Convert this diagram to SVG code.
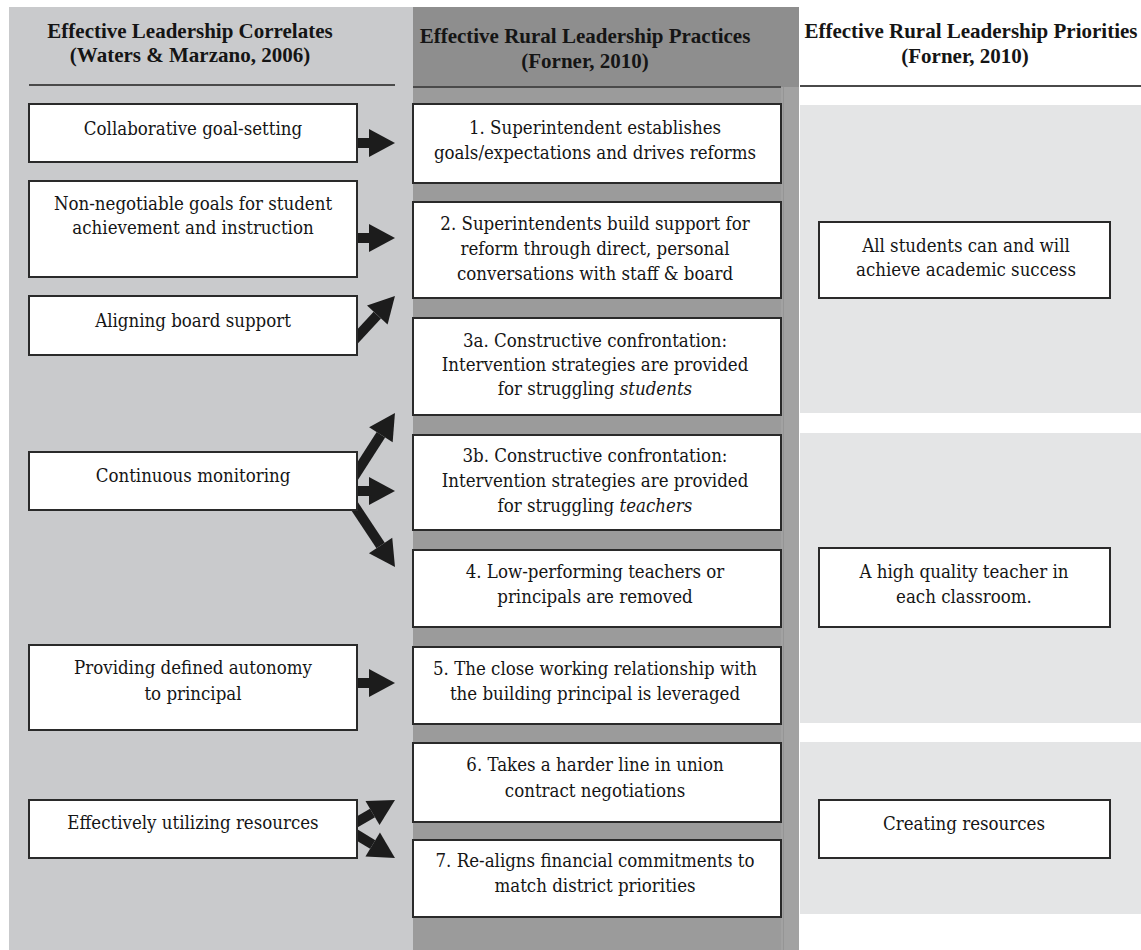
<svg xmlns="http://www.w3.org/2000/svg" width="1141" height="950" viewBox="0 0 1141 950">
<style>
.box{fill:#ffffff;stroke:#2a2a2a;stroke-width:2}
.t{font-family:"DejaVu Serif Condensed","DejaVu Serif",serif;font-stretch:condensed;font-size:18.5px;fill:#151515;text-anchor:middle}
.h{font-family:"Liberation Serif",serif;font-size:21px;font-weight:bold;fill:#151515;text-anchor:middle}
.rule{stroke:#4a4a4a;stroke-width:2}
.conn{stroke:#1c1c1c;stroke-width:10;fill:none;marker-end:url(#head)}
</style>
<defs>
<marker id="head" markerUnits="userSpaceOnUse" markerWidth="27" markerHeight="30" refX="0" refY="15" viewBox="0 0 27 30" orient="auto" overflow="visible">
<path d="M0,1 L26,15 L0,29 z" fill="#1c1c1c"/>
</marker>
</defs>
<rect x="0" y="0" width="1141" height="950" fill="#ffffff"/>
<g id="backgrounds">
<rect x="9" y="7" width="404" height="943" fill="#c9cacc"/>
<rect x="413" y="7" width="386" height="943" fill="#9b9b9b"/>
<rect x="413" y="7" width="386" height="80" fill="#8e8e8e"/>
<rect x="781" y="87" width="18" height="863" fill="#a2a2a2"/>
<line x1="783.5" y1="87" x2="783.5" y2="950" stroke="#959595" stroke-width="1"/>
<rect x="800" y="105" width="341" height="308" fill="#e4e5e6"/>
<rect x="800" y="433" width="341" height="290" fill="#e4e5e6"/>
<rect x="800" y="742" width="341" height="172" fill="#e4e5e6"/>
<line class="rule" x1="29" y1="85" x2="395" y2="85"/>
<line class="rule" x1="413" y1="87" x2="781" y2="87"/>
<line class="rule" x1="800" y1="86" x2="1141" y2="86"/>
</g>
<g id="headers">
<text class="h" x="190" y="38">Effective Leadership Correlates</text>
<text class="h" x="190" y="62">(Waters &amp; Marzano, 2006)</text>
<text class="h" x="585" y="43">Effective Rural Leadership Practices</text>
<text class="h" x="585" y="68">(Forner, 2010)</text>
<text class="h" x="971" y="38">Effective Rural Leadership Priorities</text>
<text class="h" x="965" y="63">(Forner, 2010)</text>
</g>
<g id="connectors">
<line class="conn" x1="350" y1="143" x2="369" y2="143"/>
<line class="conn" x1="350" y1="238" x2="369" y2="238"/>
<line class="conn" x1="351.6" y1="342.9" x2="377.3" y2="315.1"/>
<line class="conn" x1="352.7" y1="478.7" x2="380.9" y2="434.8"/>
<line class="conn" x1="350" y1="491" x2="369" y2="491"/>
<line class="conn" x1="352.6" y1="503.3" x2="380.6" y2="545.4"/>
<line class="conn" x1="350" y1="683" x2="369" y2="683"/>
<line class="conn" x1="350.1" y1="826" x2="372.5" y2="813"/>
<line class="conn" x1="350.2" y1="830.9" x2="372.7" y2="844.5"/>
</g>
<g id="c1">
<rect class="box" x="29" y="104" width="328" height="58"/>
<text class="t" x="193" y="135">Collaborative goal-setting</text>
</g>
<g id="c2">
<rect class="box" x="29" y="181" width="328" height="96"/>
<text class="t" x="193" y="210">Non-negotiable goals for student</text>
<text class="t" x="193" y="234">achievement and instruction</text>
</g>
<g id="c3">
<rect class="box" x="29" y="296" width="328" height="59"/>
<text class="t" x="193" y="327">Aligning board support</text>
</g>
<g id="c4">
<rect class="box" x="29" y="452" width="328" height="58"/>
<text class="t" x="193" y="482">Continuous monitoring</text>
</g>
<g id="c5">
<rect class="box" x="29" y="645" width="328" height="85"/>
<text class="t" x="193" y="674">Providing defined autonomy</text>
<text class="t" x="193" y="700">to principal</text>
</g>
<g id="c6">
<rect class="box" x="29" y="800" width="328" height="58"/>
<text class="t" x="193" y="829">Effectively utilizing resources</text>
</g>
<g id="p1">
<rect class="box" x="413" y="104" width="368" height="79"/>
<text class="t" x="595" y="134">1. Superintendent establishes</text>
<text class="t" x="595" y="159">goals/expectations and drives reforms</text>
</g>
<g id="p2">
<rect class="box" x="413" y="202" width="368" height="96"/>
<text class="t" x="595" y="230">2. Superintendents build support for</text>
<text class="t" x="595" y="255">reform through direct, personal</text>
<text class="t" x="595" y="280">conversations with staff &amp; board</text>
</g>
<g id="p3a">
<rect class="box" x="413" y="318" width="368" height="97"/>
<text class="t" x="595" y="347">3a. Constructive confrontation:</text>
<text class="t" x="595" y="371">Intervention strategies are provided</text>
<text class="t" x="595" y="395">for struggling <tspan font-style="italic">students</tspan></text>
</g>
<g id="p3b">
<rect class="box" x="413" y="435" width="368" height="95"/>
<text class="t" x="595" y="462">3b. Constructive confrontation:</text>
<text class="t" x="595" y="487">Intervention strategies are provided</text>
<text class="t" x="595" y="512">for struggling <tspan font-style="italic">teachers</tspan></text>
</g>
<g id="p4">
<rect class="box" x="413" y="550" width="368" height="77"/>
<text class="t" x="595" y="578">4. Low-performing teachers or</text>
<text class="t" x="595" y="603">principals are removed</text>
</g>
<g id="p5">
<rect class="box" x="413" y="647" width="368" height="77"/>
<text class="t" x="595" y="675">5. The close working relationship with</text>
<text class="t" x="595" y="700">the building principal is leveraged</text>
</g>
<g id="p6">
<rect class="box" x="413" y="743" width="368" height="79"/>
<text class="t" x="595" y="771">6. Takes a harder line in union</text>
<text class="t" x="595" y="797">contract negotiations</text>
</g>
<g id="p7">
<rect class="box" x="413" y="840" width="368" height="77"/>
<text class="t" x="595" y="867">7. Re-aligns financial commitments to</text>
<text class="t" x="595" y="892">match district priorities</text>
</g>
<g id="r1">
<rect class="box" x="819" y="222" width="291" height="76"/>
<text class="t" x="966" y="252">All students can and will</text>
<text class="t" x="966" y="276">achieve academic success</text>
</g>
<g id="r2">
<rect class="box" x="819" y="548" width="291" height="79"/>
<text class="t" x="964" y="578">A high quality teacher in</text>
<text class="t" x="964" y="603">each classroom.</text>
</g>
<g id="r3">
<rect class="box" x="819" y="800" width="291" height="58"/>
<text class="t" x="964" y="830">Creating resources</text>
</g>
</svg>
